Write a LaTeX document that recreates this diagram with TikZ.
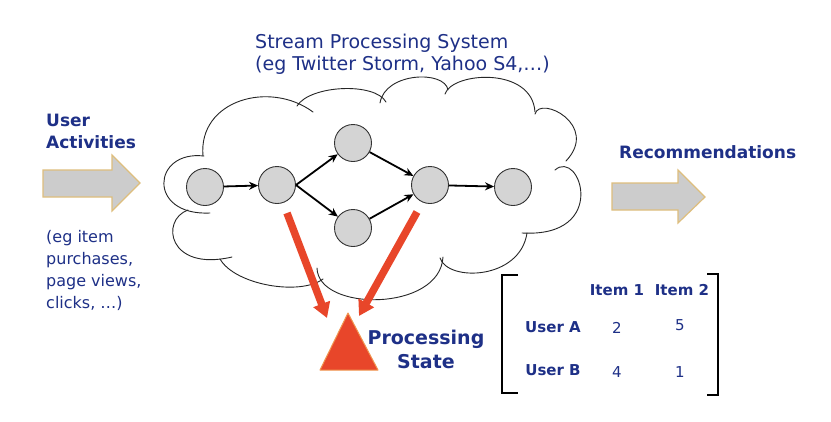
\documentclass[tikz,border=0pt]{standalone}
\usepackage{fontspec}
\setmainfont{DejaVu Sans}
\usetikzlibrary{arrows.meta}
\definecolor{txtblue}{RGB}{30,48,135}
\definecolor{arrred}{RGB}{232,70,42}
\definecolor{goldedge}{RGB}{222,190,125}
\definecolor{blockgray}{RGB}{204,204,204}
\definecolor{nodegray}{RGB}{212,212,212}
\definecolor{triedge}{RGB}{240,150,80}
\begin{document}
\begin{tikzpicture}[x=1pt,y=-1pt,
  cloudline/.style={line width=0.9pt, black!85, line cap=round},
  procnode/.style={circle, draw=black!80, line width=0.9pt, fill=nodegray, minimum size=37pt, inner sep=0pt},
  flowarrow/.style={line width=1.8pt, -{Stealth[length=9pt,width=8pt]}},
  redarrow/.style={line width=7.5pt, arrred, -{Triangle[length=15pt,width=17pt]}},
  blockarrow/.style={fill=blockgray, draw=goldedge, line width=1.2pt, line join=miter},
  bracket/.style={line width=2.6pt, black},
  lbl/.style={inner sep=0pt, text=txtblue, align=left},
  bigreg/.style={font=\fontsize{19}{22}\selectfont},
  boldlbl/.style={font=\bfseries\fontsize{17}{22}\selectfont},
  smallreg/.style={font=\fontsize{16}{22}\selectfont},
  statelbl/.style={font=\bfseries\fontsize{19}{24}\selectfont},
  matbold/.style={font=\bfseries\fontsize{15}{18}\selectfont},
  matreg/.style={font=\fontsize{15}{18}\selectfont}
]
\useasboundingbox (0,0) rectangle (831,421);
\fill[white] (0,0) rectangle (831,421);

% cloud lobes
\draw[cloudline] (204,156) .. controls (152,150) and (147,216) .. (210,213);
\draw[cloudline] (188,210) .. controls (160,220) and (168,272) .. (232,257);
\draw[cloudline] (220,259) .. controls (235,285) and (300,296) .. (323,279);
\draw[cloudline] (317,268) .. controls (318,312) and (440,312) .. (443,257);
\draw[cloudline] (440,258) .. controls (448,282) and (520,280) .. (527,233);
\draw[cloudline] (555,170) .. controls (580,148) and (610,238) .. (522,233);
\draw[cloudline] (535,114) .. controls (540,95) and (600,125) .. (566,161);
\draw[cloudline] (445,94) .. controls (452,72) and (532,66) .. (535,112);
\draw[cloudline] (380,103) .. controls (385,72) and (445,70) .. (448,90);
\draw[cloudline] (297,106) .. controls (310,85) and (375,82) .. (386,102);
\draw[cloudline] (203,156) .. controls (198,100) and (270,80) .. (313,112);

% processing nodes
\node[procnode] (n1) at (205,187) {};
\node[procnode] (n2) at (277,185) {};
\node[procnode] (n3) at (353,143) {};
\node[procnode] (n4) at (353,228) {};
\node[procnode] (n5) at (430,185) {};
\node[procnode] (n6) at (513,187) {};
\draw[flowarrow] (n1) -- (n2);
\draw[flowarrow] (n2.east) -- (n3);
\draw[flowarrow] (n2.east) -- (n4);
\draw[flowarrow] (n3) -- (n5);
\draw[flowarrow] (n4) -- (n5);
\draw[flowarrow] (n5) -- (n6);

% processing state
\coordinate (ls) at (287,213);
\coordinate (rs) at (417,212);
\coordinate (lt) at (327,318);
\coordinate (rt) at (359,316);
\draw[redarrow] (ls) -- (lt);
\draw[redarrow] (rs) -- (rt);
\fill[arrred, draw=triedge, line width=1pt, line join=round] (348,313) -- (378,370) -- (320,370) -- cycle;
\node[lbl, statelbl, align=center] (pstate) at (426,349) {Processing\\State};

% block arrows
\draw[blockarrow] (43,170) -- (112,170) -- (112,155) -- (140,183) -- (112,211) -- (112,197) -- (43,197) -- cycle;
\draw[blockarrow] (612,183) -- (678,183) -- (678,170) -- (705,197) -- (678,223) -- (678,210) -- (612,210) -- cycle;

% texts
\node[lbl, bigreg, anchor=west] (title) at (255,54) {Stream Processing System\\(eg Twitter Storm, Yahoo S4,…)};
\node[lbl, boldlbl, anchor=west] (useract) at (46,131) {User\\Activities};
\node[lbl, smallreg, anchor=west] (examples) at (46,270) {(eg item\\purchases,\\page views,\\clicks, …)};
\node[lbl, boldlbl, anchor=west] (recs) at (619,152) {Recommendations};

% matrix
\draw[bracket] (518,275) -- (502,275) -- (502,393) -- (518,393);
\draw[bracket] (707,274) -- (718,274) -- (718,395) -- (707,395);
\node[lbl, matbold] (item1) at (617,290) {Item 1};
\node[lbl, matbold] (item2) at (682,290) {Item 2};
\node[lbl, matbold] (usera) at (553,327) {User A};
\node[lbl, matbold] (userb) at (553,370) {User B};
\node[lbl, matreg] (va1) at (617,328) {2};
\node[lbl, matreg] (va2) at (680,325) {5};
\node[lbl, matreg] (vb1) at (617,372) {4};
\node[lbl, matreg] (vb2) at (680,372) {1};
\end{tikzpicture}
\end{document}
